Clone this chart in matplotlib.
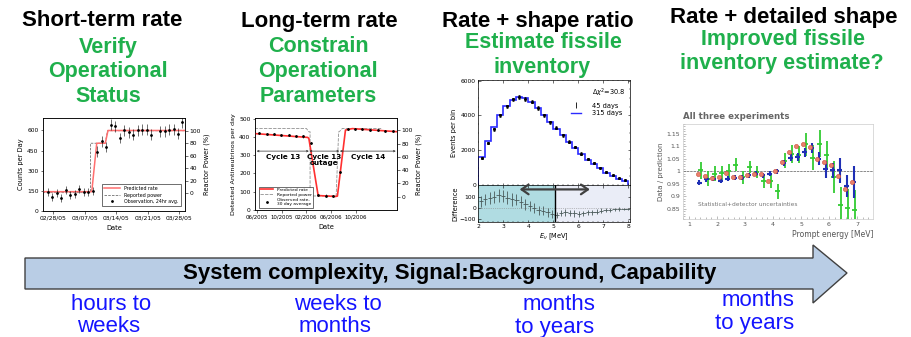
import matplotlib
matplotlib.use('Agg')
import matplotlib.pyplot as plt
from matplotlib.patches import Polygon
from matplotlib.lines import Line2D
import matplotlib.ticker as mticker

# ---------------- data ----------------
# Panel 1: short-term rate (days after 02/28/05)
p1_tick_days = [0, 7, 14, 21, 28]
p1_tick_labels = ['02/28/05', '03/07/05', '03/14/05', '03/21/05', '03/28/05']
p1_pred_days = [-2.3, 8.6, 9.7, 11.6, 12.2, 29.5]
p1_pred_rate = [144, 144, 505, 505, 600, 600]
p1_power_days = [-2.3, 8.3, 8.3, 11.6, 12.1, 29.5]
p1_power_pct = [1, 1, 80, 80, 100, 100]
p1_obs_days = [-1.2, -0.2, 0.8, 1.8, 2.8, 3.8, 4.8, 5.8, 6.8, 7.8, 8.8, 9.8, 10.8,
               11.8, 12.8, 13.8, 14.8, 15.8, 16.8, 17.8, 18.8, 19.8, 20.8, 21.8,
               23.8, 24.8, 25.8, 26.8, 27.8, 28.6]
p1_obs_rate = [144, 102, 132, 95, 157, 120, 124, 162, 144, 144, 149, 443, 518,
               476, 642, 630, 543, 600, 585, 568, 600, 605, 605, 568, 593, 593,
               605, 610, 575, 660]
p1_obs_err = [30, 30, 30, 30, 30, 30, 30, 30, 30, 30, 30, 40, 40,
              40, 40, 40, 40, 40, 40, 40, 40, 40, 40, 40, 40, 40,
              40, 40, 40, 40]

# Panel 2: long-term rate (months after 06/2005)
p2_tick_months = [0, 4, 8, 12, 16]
p2_tick_labels = ['06/2005', '10/2005', '02/2006', '06/2006', '10/2006']
p2_pred_months = [-0.3, 0.0, 8.2, 8.4, 9.9, 12.7, 13.0, 14.3, 15.4, 22.7]
p2_pred_rate = [418, 417, 397, 392, 79, 74, 76, 437, 445, 428]
p2_power_months = [-0.3, 8.0, 8.4, 8.6, 8.6, 12.8, 13.2, 13.3, 13.8, 20.2]
p2_power_pct = [103, 103, 98, 98, 1, 1, 98, 98, 103, 103]
p2_obs_months = [0.43, 1.62, 2.8, 3.99, 5.17, 6.36, 7.54, 8.73, 9.86, 11.1,
                 12.3, 13.5, 14.65, 15.84, 17.0, 18.3, 19.5, 20.7, 21.9]
p2_obs_rate = [420, 416, 414, 412, 408, 405, 402, 368, 84, 79, 77, 208, 441,
               445, 445, 439, 437, 433, 430]
p2_cycles = ['Cycle 13', 'Cycle 13\noutage', 'Cycle 14']

# Panel 3: rate + shape (E_nu spectrum)
p3_edges = [2.0, 2.25, 2.5, 2.75, 3.0, 3.25, 3.5, 3.75, 4.0, 4.25, 4.5, 4.75,
            5.0, 5.25, 5.5, 5.75, 6.0, 6.25, 6.5, 6.75, 7.0, 7.25, 7.5, 7.75, 8.0]
p3_centers = [2.125, 2.375, 2.625, 2.875, 3.125, 3.375, 3.625, 3.875, 4.125,
              4.375, 4.625, 4.875, 5.125, 5.375, 5.625, 5.875, 6.125, 6.375,
              6.625, 6.875, 7.125, 7.375, 7.625, 7.875]
p3_315days = [1600, 2530, 3320, 4050, 4550, 4900, 5080, 5000, 4800, 4450, 4050,
              3650, 3250, 2900, 2500, 2150, 1800, 1450, 1200, 950, 700, 520, 370, 250]
p3_45days = [1560, 2420, 3200, 4000, 4520, 4920, 5060, 4960, 4800, 4430, 4000,
             3600, 3300, 2850, 2500, 2180, 1800, 1500, 1260, 1000, 760, 560, 390, 280]
p3_45err = [70, 80, 90, 100, 100, 110, 110, 110, 100, 100, 100, 90, 90, 80, 80,
            70, 70, 60, 60, 50, 50, 40, 40, 30]
p3_diff_e = [2.09, 2.27, 2.45, 2.63, 2.81, 2.98, 3.16, 3.34, 3.52, 3.70, 3.88,
             4.06, 4.23, 4.41, 4.59, 4.77, 4.95, 5.13, 5.31, 5.48, 5.66, 5.84,
             6.02, 6.20, 6.38, 6.56, 6.73, 6.91, 7.09, 7.27, 7.45, 7.63, 7.81, 7.97]
p3_diff = [58, 76, 88, 97, 112, 106, 91, 76, 73, 52, 33, 21, -3, -18, -24, -39,
           -55, -61, -45, -39, -45, -48, -55, -48, -39, -39, -33, -24, -18, -15,
           -12, -9, -9, -9]
p3_diff_err = [45, 50, 50, 55, 55, 55, 55, 55, 50, 50, 50, 45, 45, 40, 40, 40,
               35, 30, 30, 30, 30, 28, 28, 25, 25, 22, 22, 20, 18, 16, 15, 14, 12, 12]
p3_cut_energy = 5.08
p3_dchi2 = 30.8

# Panel 4: rate + detailed shape (data / prediction)
p4_energy = [1.375, 1.625, 1.875, 2.125, 2.375, 2.625, 2.875, 3.125, 3.375, 3.625,
             3.875, 4.125, 4.375, 4.625, 4.875, 5.125, 5.375, 5.625, 5.875, 6.125,
             6.375, 6.625, 6.875]
p4_red = [0.988, 0.980, 0.972, 0.977, 0.993, 0.977, 0.977, 0.985, 0.988, 0.988,
          0.963, 1.001, 1.038, 1.076, 1.100, 1.109, 1.096, 1.049, 1.038, 1.024,
          0.981, 0.930, 0.957]
p4_blue = [0.954, 0.968, 0.970, 0.963, 0.970, 0.974, 0.974, 0.985, 0.991, 0.985,
           0.991, 1.001, 1.035, 1.055, 1.058, 1.076, 1.093, 1.051, 1.008, 1.005,
           1.005, 0.941, 0.958]
p4_blue_err = [0.01, 0.01, 0.01, 0.01, 0.01, 0.01, 0.01, 0.01, 0.01, 0.01, 0.01,
               0.01, 0.012, 0.015, 0.015, 0.018, 0.02, 0.025, 0.034, 0.03, 0.05,
               0.044, 0.064]
p4_green = [1.004, 0.970, 0.991, 0.993, 1.001, 1.027, 0.976, 1.017, 0.998, 0.962,
            0.962, 0.920, 1.042, 1.070, 1.067, 1.108, 1.055, 1.111, 1.067, 0.978,
            0.866, 0.855, 0.846]
p4_green_err = [0.035, 0.03, 0.03, 0.028, 0.028, 0.025, 0.025, 0.025, 0.025, 0.028,
                0.028, 0.03, 0.03, 0.035, 0.035, 0.045, 0.05, 0.055, 0.055, 0.065,
                0.07, 0.075, 0.08]

# Slide text
titles = ['Short-term rate', 'Long-term rate', 'Rate + shape ratio', 'Rate + detailed shape']
goals = [['Verify', 'Operational', 'Status'],
         ['Constrain', 'Operational', 'Parameters'],
         ['Estimate fissile', 'inventory'],
         ['Improved fissile', 'inventory estimate?']]
arrow_text = 'System complexity, Signal:Background, Capability'
timescales = [['hours to', 'weeks'], ['weeks to', 'months'],
              ['months', 'to years'], ['months', 'to years']]

# ---------------- figure ----------------
W, H = 911, 337
fig = plt.figure(figsize=(W / 100, H / 100), dpi=100)
fig.patch.set_facecolor('white')

ARIAL = ['Liberation Sans', 'DejaVu Sans']
GREEN = '#1fb04c'
BLUE_TXT = '#1414ff'


def fx(px):
    return px / W


def fy(py):
    return 1 - py / H


def ax_at(x0, y0, x1, y1):
    return fig.add_axes([fx(x0), fy(y1), (x1 - x0) / W, (y1 - y0) / H])


def slide_text(xc, yc, s, **kw):
    return fig.text(fx(xc), fy(yc), s, ha='center', va='center', family=ARIAL, **kw)


# titles
title_pos = [(102, 21), (319, 21), (538, 21), (784, 18)]
for s, (xc, yc) in zip(titles, title_pos):
    slide_text(xc, yc, s, fontsize=16, fontweight='bold', color='black')

goal_pos = [[(108, 47), (108, 71), (108, 96)],
            [(318, 46), (318, 71), (318, 96)],
            [(543, 43), (542, 67)],
            [(783, 39), (782, 63)]]
for lines, poss in zip(goals, goal_pos):
    for s, (xc, yc) in zip(lines, poss):
        slide_text(xc, yc, s, fontsize=15.5, fontweight='bold', color=GREEN)

# big arrow
arrow_pts = [(25, 258), (813, 258), (813, 245), (847, 273), (813, 303), (813, 289), (25, 289)]
fig.patches.append(Polygon([(fx(x), fy(y)) for x, y in arrow_pts], closed=True,
                           transform=fig.transFigure, facecolor='#b9cde5',
                           edgecolor='#404040', lw=1.0, zorder=0))
slide_text(449.5, 274, arrow_text, fontsize=16, fontweight='bold', color='black')

ts_pos = [[(111, 304), (109, 327)],
          [(338, 304), (335, 327)],
          [(559, 304), (555, 327)],
          [(758, 301), (755, 324)]]
for lines, poss in zip(timescales, ts_pos):
    for s, (xc, yc) in zip(lines, poss):
        slide_text(xc, yc, s, fontsize=16, color=BLUE_TXT)


def small_style(ax, fs=4.3):
    for sp in ax.spines.values():
        sp.set_linewidth(0.5)
    ax.tick_params(labelsize=fs, width=0.4, length=1.8, pad=1.5)


# ---------------- panel 1 ----------------
ax1 = ax_at(43, 118, 185, 211)
ax1r = ax1.twinx()
ax1.set_zorder(ax1r.get_zorder() + 1)
ax1.patch.set_visible(False)
ax1.plot(p1_pred_days, p1_pred_rate, color='#ff6f6f', lw=1.1)
ax1r.plot(p1_power_days, p1_power_pct, color='#707070', ls=(0, (3, 1.5)), lw=0.6)
ax1.errorbar(p1_obs_days, p1_obs_rate, yerr=p1_obs_err, fmt='o', ms=1.0, color='black',
             elinewidth=0.4, capsize=0)
ax1.set_xlim(-2.23, 29.3)
ax1.set_ylim(0, 693)
ax1r.set_ylim(-28.4, 120.4)
ax1.set_yticks([0, 150, 300, 450, 600])
ax1r.set_yticks([0, 20, 40, 60, 80, 100])
ax1.set_xticks(p1_tick_days)
ax1.set_xticklabels(p1_tick_labels)
for a in (ax1, ax1r):
    small_style(a)
ax1.set_ylabel('Counts per Day', fontsize=4.8, labelpad=2)
ax1r.set_ylabel('Reactor Power (%)', fontsize=4.8, labelpad=2)
ax1.set_xlabel('Date', fontsize=4.8, labelpad=3)
h1 = [Line2D([], [], color='#ff6f6f', lw=1.1),
      Line2D([], [], color='#707070', ls=(0, (3, 1.5)), lw=0.6),
      Line2D([], [], color='black', marker='o', ms=1.0, lw=0)]
lg = ax1.legend(h1, ['Predicted rate', 'Reported power', 'Observation, 24hr avg.'],
                loc='lower right', fontsize=3.4, frameon=True, fancybox=False,
                handlelength=3.5, borderpad=0.4, labelspacing=0.3,
                bbox_to_anchor=(0.985, 0.03))
lg.get_frame().set_linewidth(0.5)
lg.get_frame().set_edgecolor('black')

# ---------------- panel 2 ----------------
ax2 = ax_at(255, 118, 397, 210)
ax2r = ax2.twinx()
ax2.set_zorder(ax2r.get_zorder() + 1)
ax2.patch.set_visible(False)
ax2r.plot(p2_power_months, p2_power_pct, color='#909090', ls=(0, (4, 1.5)), lw=0.6)
ax2.plot(p2_pred_months, p2_pred_rate, color='#ff3030', lw=1.2)
ax2.errorbar(p2_obs_months, p2_obs_rate, yerr=6, fmt='o', ms=1.0, color='black',
             elinewidth=0.4, capsize=0)
ax2.set_xlim(-0.27, 22.6)
ax2.set_ylim(0, 503)
ax2r.set_ylim(-20.2, 118.8)
ax2.set_yticks([0, 100, 200, 300, 400, 500])
ax2r.set_yticks([0, 20, 40, 60, 80, 100])
ax2.set_xticks(p2_tick_months)
ax2.set_xticklabels(p2_tick_labels)
for a in (ax2, ax2r):
    small_style(a)
ax2.tick_params(axis='x', labelsize=3.9)
ax2.set_ylabel('Detected Antineutrinos per day', fontsize=4.6, labelpad=2)
ax2r.set_ylabel('Reactor Power (%)', fontsize=4.8, labelpad=2)
ax2.set_xlabel('Date', fontsize=4.8, labelpad=3)
for (a, b), lab in zip([(0.0, 8.4), (8.5, 13.3), (13.4, 22.4)], p2_cycles):
    ax2.annotate('', xy=(a, 322), xytext=(b, 322),
                 arrowprops=dict(arrowstyle='<->', lw=0.5, color='#303030',
                                 shrinkA=0, shrinkB=0, mutation_scale=3))
    ax2.text((a + b) / 2, 308, lab, ha='center', va='top', fontsize=5.2,
             fontweight='bold', linespacing=1.1)
h2 = [Line2D([], [], color='#ff3030', lw=1.2),
      Line2D([], [], color='#909090', ls=(0, (4, 1.5)), lw=0.6),
      Line2D([], [], color='black', marker='o', ms=1.0, lw=0)]
lg2 = ax2.legend(h2, ['Predicted rate', 'Reported power', 'Observed rate,\n30 day average'],
                 loc='lower left', fontsize=3.2, frameon=True, fancybox=False,
                 handlelength=3.0, borderpad=0.3, labelspacing=0.2,
                 bbox_to_anchor=(0.01, 0.0))
lg2.get_frame().set_linewidth(0.5)
lg2.get_frame().set_edgecolor('black')

# ---------------- panel 3 ----------------
ax3a = ax_at(478, 80, 630, 185)
ax3b = ax_at(478, 185, 630, 221.7)
ax3a.stairs(p3_315days, p3_edges, color='#2b2bff', lw=1.2)
ax3a.errorbar(p3_centers, p3_45days, yerr=p3_45err, fmt='s', ms=1.1, color='black',
              elinewidth=0.5, capsize=0.8, capthick=0.5)
ax3a.set_xlim(1.98, 8.07)
ax3a.set_ylim(0, 6040)
ax3a.set_yticks([0, 2000, 4000, 6000])
ax3a.set_xticks([2, 3, 4, 5, 6, 7, 8])
ax3a.tick_params(labelbottom=False)
ax3a.xaxis.set_minor_locator(mticker.MultipleLocator(0.2))
ax3a.yaxis.set_minor_locator(mticker.MultipleLocator(500))
ax3a.tick_params(which='both', direction='in', top=True, right=True)
ax3a.tick_params(which='minor', length=1.0, width=0.3)
small_style(ax3a)
ax3a.set_ylabel('Events per bin', fontsize=4.8, labelpad=3)
ax3a.text(0.86, 0.875, r'$\Delta\chi^2$=' + str(p3_dchi2), transform=ax3a.transAxes,
          ha='center', va='center', fontsize=4.8)
ax3a.legend([Line2D([], [], color='black', marker='|', ms=4, lw=0, mew=0.6),
             Line2D([], [], color='#2b2bff', lw=1.0)],
            ['45 days', '315 days'], loc='upper right', bbox_to_anchor=(0.99, 0.84),
            fontsize=4.8, frameon=False, handlelength=1.5, labelspacing=0.25,
            handletextpad=1.6)

ax3b.axvspan(1.98, p3_cut_energy, color='#b0dce2', lw=0)
ax3b.axvspan(p3_cut_energy, 8.07, color='#eaedf7', lw=0)
ax3b.axhline(0, color='#888888', lw=0.5, ls=':')
ax3b.errorbar(p3_diff_e, p3_diff, yerr=p3_diff_err, xerr=0.089, fmt='none',
              ecolor='#4a5a5a', elinewidth=0.6)
ax3b.axvline(p3_cut_energy, color='black', lw=1.0)
ax3b.annotate('', xy=(3.65, 164), xytext=(6.46, 164),
              arrowprops=dict(arrowstyle='<->,head_length=0.5,head_width=0.35', lw=1.6,
                              color='#404040', shrinkA=0, shrinkB=0))
ax3b.set_xlim(1.98, 8.07)
ax3b.set_ylim(-121, 203)
ax3b.set_yticks([-100, 0, 100])
ax3b.set_xticks([2, 3, 4, 5, 6, 7, 8])
ax3b.xaxis.set_minor_locator(mticker.MultipleLocator(0.2))
ax3b.tick_params(which='both', direction='in', top=True, right=True)
ax3b.tick_params(which='minor', length=1.0, width=0.3)
small_style(ax3b)
ax3b.set_ylabel('Difference', fontsize=4.8, labelpad=1)
ax3b.set_xlabel(r'$E_\nu$ [MeV]', fontsize=4.8, labelpad=2)

# ---------------- panel 4 ----------------
ax4 = ax_at(683, 124, 873, 219)
ax4.axhline(1.0, color='#777777', lw=0.6, ls=(0, (3, 1)))
e_green = [e + 0.05 for e in p4_energy]
e_red = [e - 0.05 for e in p4_energy]
ax4.errorbar(e_green, p4_green, yerr=p4_green_err, xerr=0.09, fmt='none',
             ecolor='#33cc33', elinewidth=1.3)
ax4.errorbar(p4_energy, p4_blue, yerr=p4_blue_err, xerr=0.1, fmt='none',
             ecolor='#1f2fb5', elinewidth=1.5)
ax4.scatter(e_red, p4_red, s=9, facecolor='#e8806c', edgecolor='#cc4a3a', lw=0.4, zorder=5)
ax4.set_xlim(0.786, 7.57)
ax4.set_ylim(0.809, 1.19)
ax4.set_xticks([1, 2, 3, 4, 5, 6, 7])
ax4.set_yticks([0.85, 0.9, 0.95, 1.0, 1.05, 1.1, 1.15])
ax4.set_yticklabels(['0.85', '0.9', '0.95', '1', '1.05', '1.1', '1.15'])
ax4.xaxis.set_minor_locator(mticker.MultipleLocator(0.2))
ax4.yaxis.set_minor_locator(mticker.MultipleLocator(0.01))
ax4.tick_params(which='both', direction='in', colors='#888888', labelcolor='#555555',
                labelsize=4.5, width=0.4, pad=2)
ax4.tick_params(which='major', length=2.5)
ax4.tick_params(which='minor', length=1.2)
for sp in ax4.spines.values():
    sp.set_linewidth(0.5)
    sp.set_color('#cccccc')
ax4.text(1.32, 0.868, 'Statistical+detector uncertainties', fontsize=4.2, color='#777777',
         ha='left', va='center')
ax4.set_ylabel('Data / prediction', fontsize=5, color='#555555', labelpad=2)
ax4.set_xlabel('Prompt energy [MeV]', fontsize=5.5, color='#555555', loc='right', labelpad=2)
ax4.text(0.0, 1.03, 'All three experiments', transform=ax4.transAxes, fontsize=6.2,
         fontweight='bold', color='#666666', ha='left', va='bottom')

fig.savefig('out.png', dpi=100, facecolor='white')
